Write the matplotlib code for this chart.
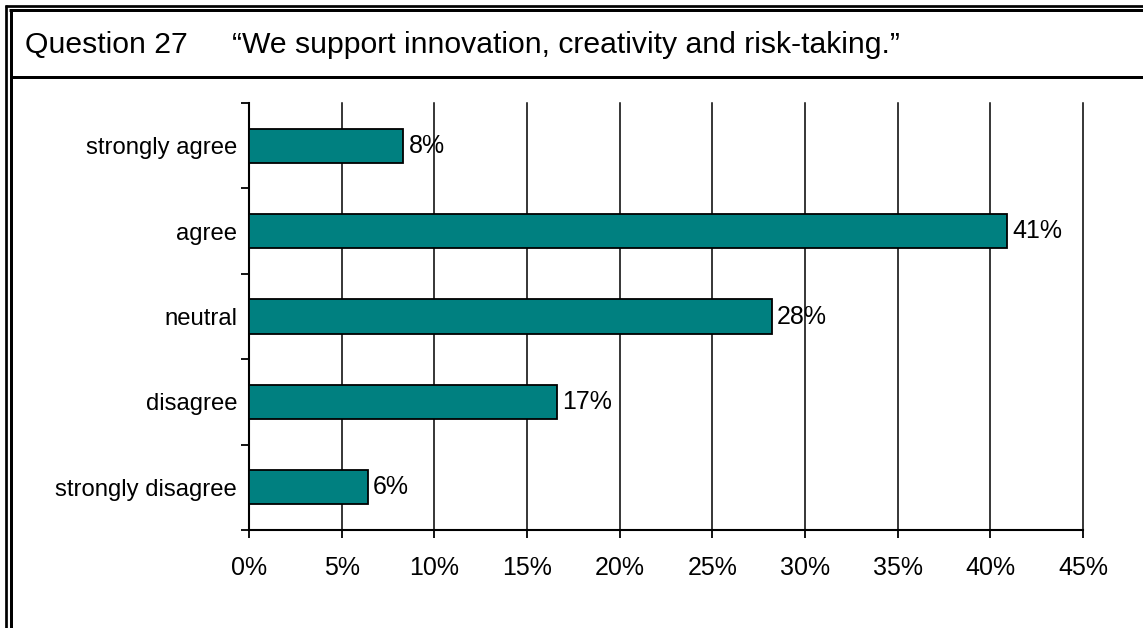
import matplotlib.pyplot as plt
from matplotlib.lines import Line2D
from matplotlib.ticker import FixedLocator

plt.rcParams['font.family'] = ['Liberation Sans', 'DejaVu Sans']

# survey answers, bottom to top
categories = ['strongly disagree', 'disagree', 'neutral', 'agree', 'strongly agree']
shares = [6.4, 16.6, 28.2, 40.9, 8.3]
x_ticks = [0, 5, 10, 15, 20, 25, 30, 35, 40, 45]

question = 'Question 27'
statement = '\u201cWe support innovation, creativity and risk-taking.\u201d'

W, H = 1143, 628
fig = plt.figure(figsize=(W / 100, H / 100), dpi=100)

# double frame on the left/top plus the line under the heading
def hline(y, x0, lw):
    fig.add_artist(Line2D([x0 / W, 1], [1 - y / H, 1 - y / H], color='black',
                          lw=lw, solid_capstyle='butt', transform=fig.transFigure))

def vline(x, y0, lw):
    fig.add_artist(Line2D([x / W, x / W], [1 - y0 / H, 0], color='black',
                          lw=lw, solid_capstyle='butt', transform=fig.transFigure))

hline(6.2, 5.0, 1.95)
vline(6.3, 5.0, 1.95)
hline(10.4, 9.0, 2.15)
vline(10.5, 9.0, 2.15)
hline(76.5, 12.0, 2.15)

fig.text(25 / W, 1 - 53 / H, question, fontsize=21.7, va='baseline', ha='left')
fig.text(232 / W, 1 - 53 / H, statement, fontsize=21.7, va='baseline', ha='left')

ax = fig.add_axes([249 / W, 1 - 530 / H, (1083 - 249) / W, (530 - 103) / H])

pos = list(range(len(categories)))
ax.barh(pos, shares, height=0.4, color='#008080', edgecolor='black',
        linewidth=1.3, zorder=3)
for p, v in zip(pos, shares):
    ax.text(v + 0.3, p, f'{v:.0f}%', va='center', ha='left', fontsize=18, zorder=4)

ax.set_xlim(0, 45)
ax.set_ylim(-0.5, len(categories) - 0.5)
ax.set_xticks(x_ticks)
ax.set_xticklabels([f'{t}%' for t in x_ticks], fontsize=18)
ax.set_yticks(pos)
ax.set_yticklabels(categories, fontsize=17.2)
ax.yaxis.set_minor_locator(FixedLocator([p - 0.5 for p in range(len(categories) + 1)]))

ax.tick_params(axis='y', which='major', length=0, pad=8.5)
ax.tick_params(axis='y', which='minor', length=6, width=1.3, direction='out')
ax.tick_params(axis='x', which='major', length=6, width=1.3, direction='out', pad=13)

for side in ['top', 'right']:
    ax.spines[side].set_visible(False)
for side in ['left', 'bottom']:
    ax.spines[side].set_linewidth(1.5)

# vertical gridlines, the last one sits on the axes edge
for t in x_ticks[1:]:
    ax.axvline(t, color='black', lw=1.1, zorder=1, clip_on=False)

fig.savefig('out.png', dpi=100)
